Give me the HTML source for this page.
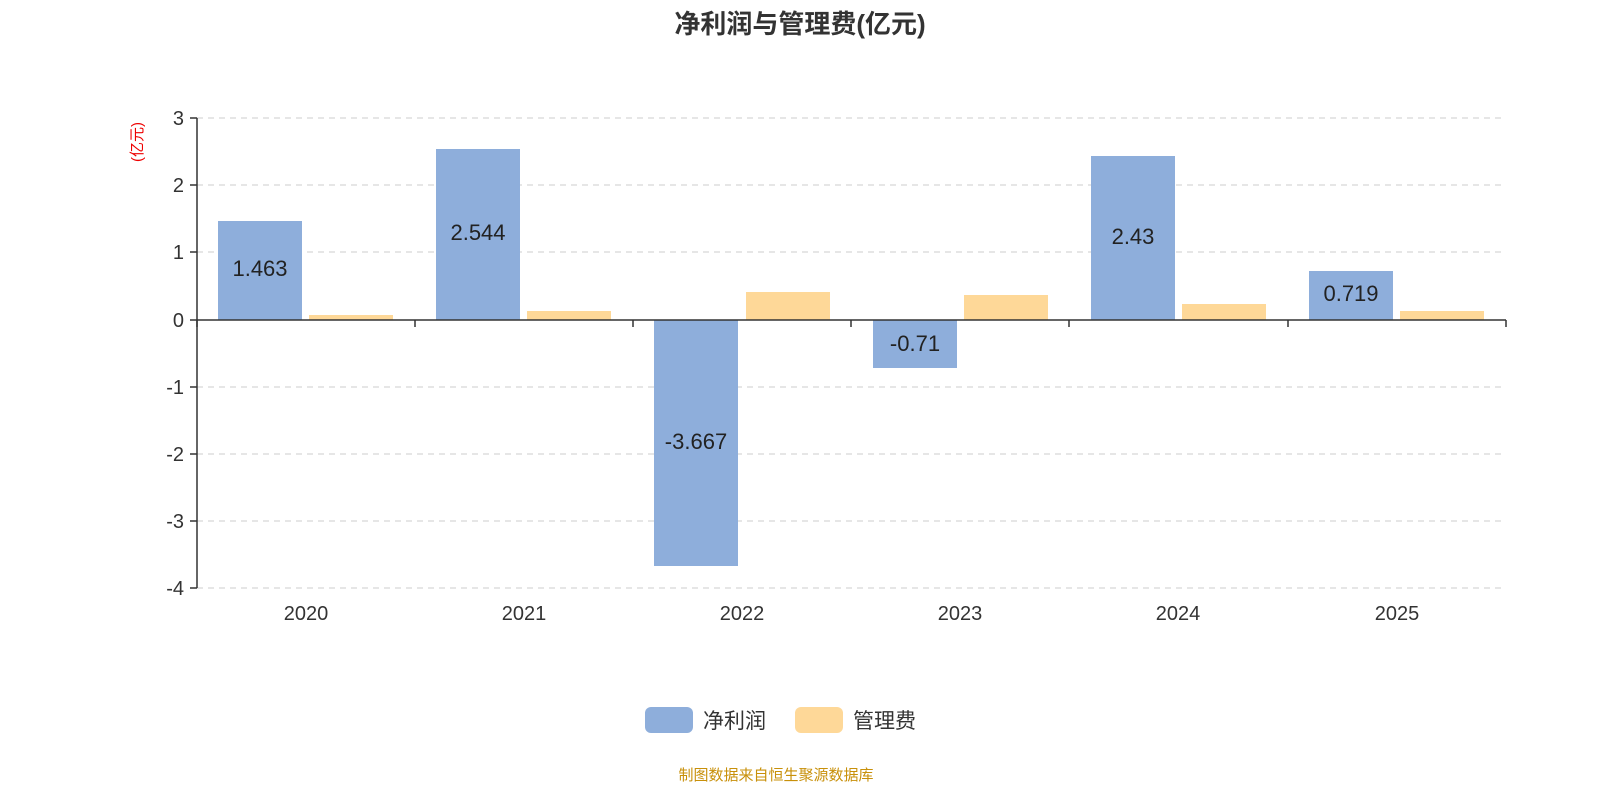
<!DOCTYPE html>
<html><head><meta charset="utf-8"><style>
html,body{margin:0;padding:0;background:#fff;}
svg{display:block;font-family:"Liberation Sans","Noto Sans CJK SC",sans-serif;}
</style></head><body>
<svg width="1600" height="800" viewBox="0 0 1600 800">
<text x="800" y="33" text-anchor="middle" font-size="26" font-weight="bold" fill="#333">净利润与管理费(亿元)</text>
<text transform="translate(142,142) rotate(-90)" text-anchor="middle" font-size="15" fill="#e00">(亿元)</text>
<g stroke="#ccc" stroke-dasharray="6,5" stroke-width="1">
<line x1="197" y1="118" x2="1506" y2="118"/><line x1="197" y1="185" x2="1506" y2="185"/>
<line x1="197" y1="252" x2="1506" y2="252"/><line x1="197" y1="387" x2="1506" y2="387"/>
<line x1="197" y1="454" x2="1506" y2="454"/><line x1="197" y1="521" x2="1506" y2="521"/>
<line x1="197" y1="588" x2="1506" y2="588"/>
</g>
<g fill="#8eaedb">
<rect x="218" y="221" width="84" height="99"/>
<rect x="436" y="149" width="84" height="171"/>
<rect x="654" y="320" width="84" height="246"/>
<rect x="873" y="320" width="84" height="48"/>
<rect x="1091" y="156" width="84" height="164"/>
<rect x="1309" y="271" width="84" height="49"/>
</g>
<g fill="#fed898">
<rect x="309" y="315" width="84" height="5"/>
<rect x="527" y="311" width="84" height="9"/>
<rect x="746" y="292" width="84" height="28"/>
<rect x="964" y="295" width="84" height="25"/>
<rect x="1182" y="304" width="84" height="16"/>
<rect x="1400" y="311" width="84" height="9"/>
</g>
<g font-size="22" fill="#222" text-anchor="middle">
<text x="260" y="276">1.463</text>
<text x="478" y="240">2.544</text>
<text x="696" y="449">-3.667</text>
<text x="915" y="351">-0.71</text>
<text x="1133" y="244">2.43</text>
<text x="1351" y="301">0.719</text>
</g>
<g stroke="#333" stroke-width="1.5">
<line x1="197" y1="118" x2="197" y2="588"/>
<line x1="197" y1="320" x2="1506" y2="320"/>
<line x1="190" y1="118" x2="197" y2="118"/><line x1="190" y1="185" x2="197" y2="185"/>
<line x1="190" y1="252" x2="197" y2="252"/><line x1="190" y1="320" x2="197" y2="320"/>
<line x1="190" y1="387" x2="197" y2="387"/><line x1="190" y1="454" x2="197" y2="454"/>
<line x1="190" y1="521" x2="197" y2="521"/><line x1="190" y1="588" x2="197" y2="588"/>
<line x1="197" y1="320" x2="197" y2="327"/><line x1="415" y1="320" x2="415" y2="327"/>
<line x1="633" y1="320" x2="633" y2="327"/><line x1="851" y1="320" x2="851" y2="327"/>
<line x1="1069" y1="320" x2="1069" y2="327"/><line x1="1288" y1="320" x2="1288" y2="327"/>
<line x1="1506" y1="320" x2="1506" y2="327"/>
</g>
<g font-size="20" fill="#333" text-anchor="end">
<text x="184" y="125">3</text><text x="184" y="192">2</text><text x="184" y="259">1</text>
<text x="184" y="327">0</text><text x="184" y="394">-1</text><text x="184" y="461">-2</text>
<text x="184" y="528">-3</text><text x="184" y="595">-4</text>
</g>
<g font-size="20" fill="#333" text-anchor="middle">
<text x="306" y="620">2020</text><text x="524" y="620">2021</text><text x="742" y="620">2022</text>
<text x="960" y="620">2023</text><text x="1178" y="620">2024</text><text x="1397" y="620">2025</text>
</g>
<rect x="645" y="707" width="48" height="26" rx="6" fill="#8eaedb"/>
<text x="703" y="728" font-size="21" fill="#333">净利润</text>
<rect x="795" y="707" width="48" height="26" rx="6" fill="#fed898"/>
<text x="853" y="728" font-size="21" fill="#333">管理费</text>
<text x="776" y="780" text-anchor="middle" font-size="15" fill="#c8900a">制图数据来自恒生聚源数据库</text>
</svg>
</body></html>
